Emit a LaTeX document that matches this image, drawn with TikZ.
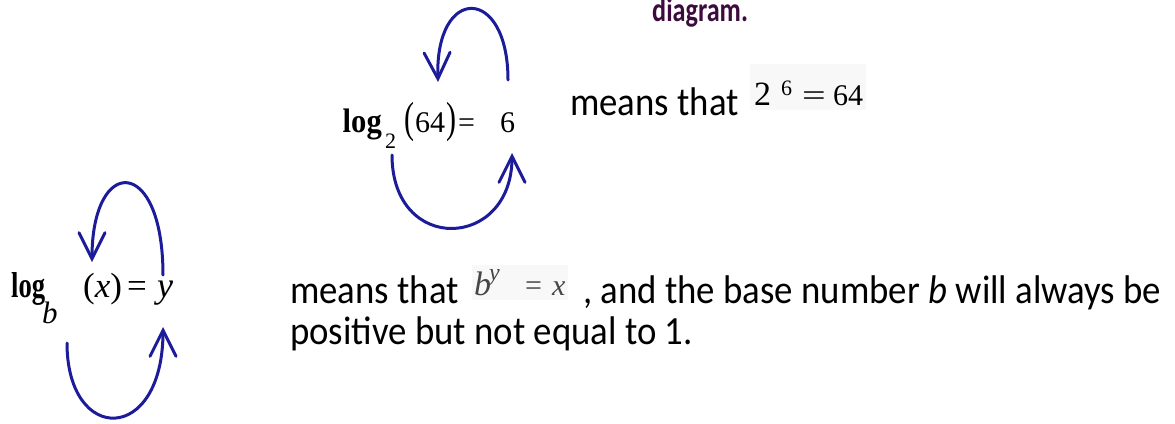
\documentclass[tikz,border=0pt]{standalone}
\usepackage{fontspec}
\usepackage{graphicx}
\setmainfont{Carlito}
\newfontfamily\tms{Liberation Serif}
\usetikzlibrary{arrows.meta}
\definecolor{arcblue}{RGB}{28,28,155}
\definecolor{titlepurple}{RGB}{60,12,62}
\definecolor{mathgray}{RGB}{70,70,70}
\definecolor{mathbg}{RGB}{248,248,248}
\newcommand\hsq[1]{\scalebox{0.92}[1]{#1}}
\begin{document}
\begin{tikzpicture}[x=1pt,y=-1pt,
  txt/.style={inner sep=0pt, anchor=base west, font=\fontsize{40}{40}\selectfont},
  tm/.style={inner sep=0pt, anchor=base west, font=\tms\fontsize{30}{30}\selectfont},
  tmb/.style={tm, font=\tms\bfseries\fontsize{30}{30}\selectfont},
  tmi/.style={tm, font=\tms\itshape\fontsize{30}{30}\selectfont},
  loopline/.style={draw=arcblue, line width=3pt, line cap=round,
    -{Straight Barb[length=26pt,width=26pt,line cap=round]}}]
\useasboundingbox (0,0) rectangle (1175,423);
\clip (0,0) rectangle (1175,423);
\fill[white] (0,0) rectangle (1175,423);

% title (cut at the top edge, as in the reference)
\node[inner sep=0pt, anchor=base west, font=\fontsize{34}{34}\selectfont\bfseries, text=titlepurple] (title) at (652,21) {\scalebox{0.77}[1]{diagram.}};

% ---- top example
\node[tmb, font=\tms\bfseries\fontsize{34}{34}\selectfont, anchor=base east] (tlog) at (382,132) {\scalebox{0.9}[1]{log}};
\node[tm, font=\tms\fontsize{22}{22}\selectfont] (tsub) at (385,148) {2};
\node[tm] (tlp) at (404,132) {\scalebox{1}[1.45]{(}};
\node[tm] (t64) at (415,132) {64};
\node[tm] (trp) at (446,132) {\scalebox{1}[1.45]{)}};
\node[tm] (teq) at (458,132) {=};
\node[tm] (tsix) at (500,132) {6};

\coordinate (tUs) at (508,80);
\coordinate (tUe) at (438,82);
\coordinate (tLs) at (392,155);
\coordinate (tLe) at (512,153);
\draw[loopline] (tUs) .. controls (508,-15) and (435,-15) .. (tUe);
\draw[loopline] (tLs) .. controls (392,255) and (512,250) .. (tLe);

\node[txt] (m1) at (570,115) {\hsq{means that}};
\fill[mathbg] (750,64) rectangle (866,110);
\node[tm, font=\tms\fontsize{34}{34}\selectfont] (p2) at (754,105) {2};
\node[tm, font=\tms\fontsize{22}{22}\selectfont] (p6) at (781,95) {6};
\node[tm] (peq) at (802,105) {\scalebox{1.4}[1]{=}};
\node[tm] (p64) at (833,105) {64};

% ---- general form
\node[tm, font=\tms\bfseries\fontsize{36}{36}\selectfont] (blog) at (11,297) {\scalebox{0.74}[1]{log}};
\node[tmi, font=\tms\itshape\fontsize{31}{31}\selectfont] (bsub) at (42,323) {b};
\node[tm, font=\tms\fontsize{35}{35}\selectfont] (bx) at (83,297) {(\textit{x})};
\node[tm, font=\tms\fontsize{35}{35}\selectfont] (beq) at (127,297) {=};
\node[tmi, font=\tms\itshape\fontsize{36}{36}\selectfont] (by) at (157,297) {y};

\coordinate (bUs) at (163,275);
\coordinate (bUe) at (92,262);
\coordinate (bLs) at (67,343);
\coordinate (bLe) at (163,327);
\draw[loopline] (bUs) .. controls (163,155) and (92,155) .. (bUe);
\draw[loopline] (bLs) .. controls (67,445) and (163,445) .. (bLe);

\node[txt] (m2) at (290,303) {\hsq{means that}};
\fill[mathbg] (472,265) rectangle (568,300);
\node[tmi, font=\tms\itshape\fontsize{34}{34}\selectfont, text=mathgray] (qb) at (474,295) {b};
\node[tmi, font=\tms\itshape\fontsize{24}{24}\selectfont, text=mathgray] (qy) at (489,280) {y};
\node[tm, font=\tms\fontsize{30}{30}\selectfont, text=mathgray] (qeq) at (525,295) {=};
\node[tmi, font=\tms\itshape\fontsize{30}{30}\selectfont, text=mathgray] (qx) at (552,295) {x};
\node[txt] (rest) at (583,303) {\hsq{, and the base number \textit{b} will always be}};
\node[txt] (pos) at (290,344) {\hsq{positive but not equal to 1.}};
\end{tikzpicture}
\end{document}
